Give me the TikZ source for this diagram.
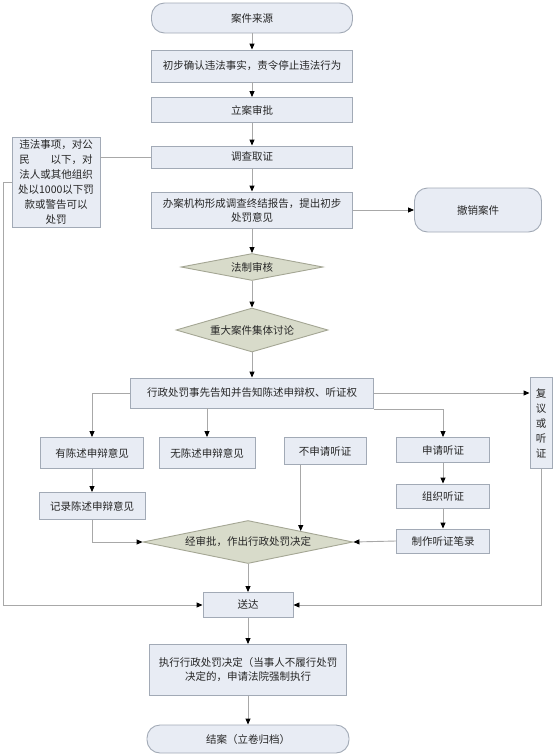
\documentclass[tikz,border=0pt]{standalone}
\usepackage{fontspec}
\setmainfont{Noto Sans CJK SC}
\usetikzlibrary{arrows.meta}
\usetikzlibrary{shapes.geometric}
\definecolor{boxfill}{HTML}{E8ECF4}
\definecolor{boxline}{HTML}{A2AAB6}
\definecolor{diafill}{HTML}{D8DBCA}
\definecolor{dialine}{HTML}{A4A694}
\definecolor{wire}{HTML}{A8A8A8}
\tikzstyle{every node}=[font=\fontsize{10.5}{14}\selectfont, inner sep=0pt, align=center, text=black!85]
\tikzstyle{stepbox}=[rectangle, draw=boxline, fill=boxfill, line width=0.9pt]
\tikzstyle{endbox}=[stepbox, rounded corners=13pt]
\tikzset{check/.style={diamond, draw=dialine, fill=diafill, line width=0.9pt, aspect=#1}}
\tikzset{go/.style={draw=wire, line width=0.9pt, -{Triangle[length=6pt,width=5pt,color=black]}}}
\tikzset{link/.style={draw=wire, line width=0.9pt}}

\begin{document}
\begin{tikzpicture}[x=1pt,y=-1pt]
		\useasboundingbox (0,0) rectangle (553,755);
		\node[endbox, minimum width=201, minimum height=30] (src) at (252,18) {案件来源};
		\node[stepbox, minimum width=201, minimum height=32] (fact) at (252,66) {初步确认违法事实，责令停止违法行为};
		\node[stepbox, minimum width=201, minimum height=25] (lian) at (252,110) {立案审批};
		\node[stepbox, minimum width=201, minimum height=22] (dcqz) at (252,157) {调查取证};
		\node[stepbox, minimum width=201, minimum height=36] (bgao) at (252,210) {办案机构形成调查终结报告，提出初步\\处罚意见};
		\node[endbox, minimum width=127, minimum height=44] (cxiao) at (478,210) {撤销案件};
		\node[check=5.2, minimum width=142, minimum height=27] (fzsh) at (252,267) {法制审核};
		\node[check=3.4, minimum width=152, minimum height=44] (zdtl) at (252,330) {重大案件集体讨论};
		\node[stepbox, minimum width=243, minimum height=30] (gz) at (252,393) {行政处罚事先告知并告知陈述申辩权、听证权};
		\node[stepbox, minimum width=22, minimum height=91, font=\fontsize{10.5}{15}\selectfont] (fy) at (541,423) {复\\议\\或\\听\\证};
		\node[stepbox, minimum width=103, minimum height=31] (ycs) at (92,453) {有陈述申辩意见};
		\node[stepbox, minimum width=96, minimum height=31] (wcs) at (207,453) {无陈述申辩意见};
		\node[stepbox, minimum width=82, minimum height=27] (bsq) at (325,451) {不申请听证};
		\node[stepbox, minimum width=93, minimum height=25] (sq) at (443,450) {申请听证};
		\node[stepbox, minimum width=93, minimum height=24] (zz) at (443,496) {组织听证};
		\node[stepbox, minimum width=93, minimum height=24] (bl) at (443,541) {制作听证笔录};
		\node[stepbox, minimum width=106, minimum height=27] (jl) at (92,506) {记录陈述申辩意见};
		\node[check=4.9, minimum width=210, minimum height=43] (jsp) at (248,542) {经审批，作出行政处罚决定};
		\node[stepbox, minimum width=90, minimum height=25] (sd) at (248,605) {送达};
		\node[stepbox, minimum width=197, minimum height=51] (zx) at (248,670) {执行行政处罚决定（当事人不履行处罚\\决定的，申请法院强制执行};
		\node[endbox, minimum width=202, minimum height=28] (ja) at (248,739) {结案（立卷归档）};
		\node[stepbox, minimum width=88, minimum height=90, font=\fontsize{10.5}{15}\selectfont] (wf) at (56,182) {违法事项，对公\\民\hspace{2em}以下，对\\法人或其他组织\\处以1000以下罚\\款或警告可以\\处罚};
		\coordinate (lft) at (3,182);
		\draw[go] (src) -- (fact);
		\draw[go] (fact) -- (lian);
		\draw[go] (lian) -- (dcqz);
		\draw[go] (dcqz) -- (bgao);
		\draw[go] (bgao) -- (fzsh);
		\draw[go] (fzsh) -- (zdtl);
		\draw[go] (zdtl) -- (gz);
		\draw[go] (bgao.east) -- (cxiao.west);
		\draw[go] (gz.east) -- (gz.east -| fy.west);
		\draw[go] (gz.west) -| (ycs.north);
		\draw[go] (gz.south -| wcs.north) -- (wcs.north);
		\draw[go] ([yshift=-1pt]gz.south east) -| (sq.north);
		\draw[go] (ycs.south) -- (ycs.south |- jl.north);
		\draw[go] (jl.south) |- (jsp.west);
		\draw[go] (bsq.south -| jsp.north east) -- (jsp.north east);
		\draw[go] (sq) -- (zz);
		\draw[go] (zz) -- (bl);
		\draw[go] (bl.west) -- (jsp.east);
		\draw[go] (jsp) -- (sd);
		\draw[go] (sd) -- (zx);
		\draw[go] (zx) -- (ja);
		\draw[link] (dcqz.west) -- (dcqz.west -| wf.east);
		\draw[go] (wf.west) -- (lft) |- (sd.west);
		\draw[go] (fy.south) |- (sd.east);
\end{tikzpicture}
\end{document}
